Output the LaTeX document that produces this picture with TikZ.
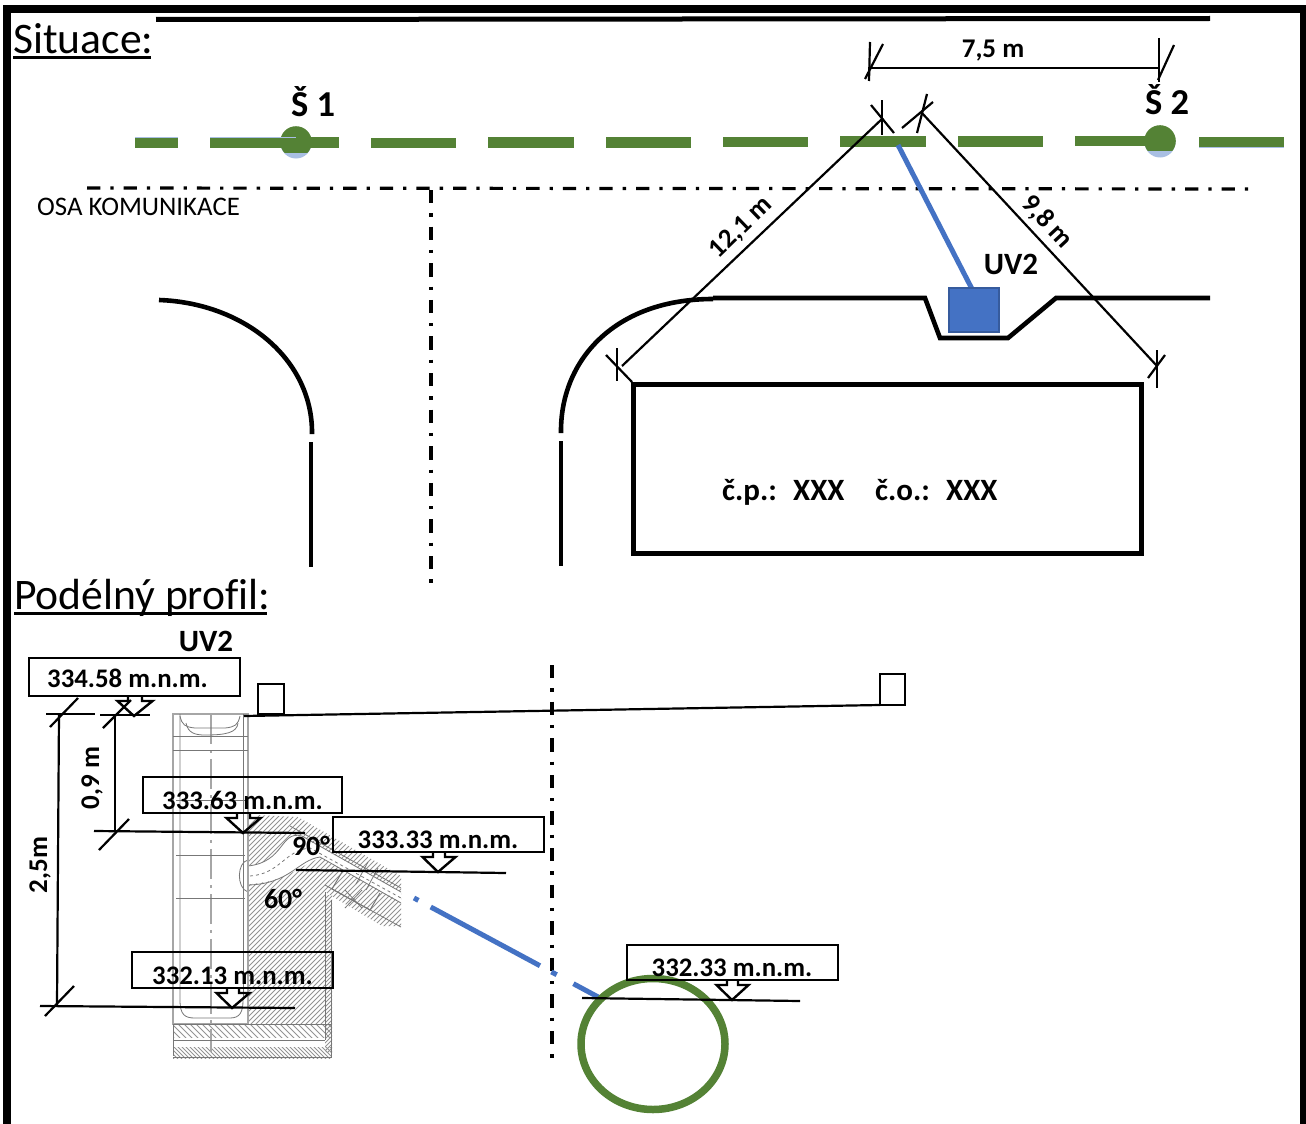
\documentclass[tikz,border=0pt]{standalone}
\usepackage{fontspec}
\setmainfont{Carlito}
\definecolor{pipegreen}{HTML}{548235}
\definecolor{pipeblue}{HTML}{4472C4}
\definecolor{pipelight}{HTML}{A9BFE3}
\definecolor{sketchgray}{HTML}{777777}
\tikzset{
  x=1pt,y=-1pt,
  dashdotline/.style={line width=3.2pt,dash pattern=on 13.3pt off 10pt on 3.3pt off 10pt},
  kerb/.style={line width=4.6pt},
  dimline/.style={line width=2.2pt},
  boxline/.style={line width=2.8pt},
  greenrun/.style={line width=10.5pt,pipegreen},
  sk/.style={sketchgray,line width=0.8pt},
  skl/.style={gray!70,line width=1.1pt},
  hatch/.style={gray!85,line width=0.8pt},
  lab/.style={font=\bfseries\fontsize{27}{29}\selectfont,inner sep=0pt,anchor=base},
  levellab/.style={font=\bfseries\fontsize{26.8}{29}\selectfont,inner sep=0pt,anchor=base},
  big/.style={font=\fontsize{43.6}{48}\selectfont,inner sep=0pt,anchor=base west},
}
\newcommand{\levelbox}[7]{% x1,y1,x2,y2,shaftL,shaftR,tipx
  \pgfmathsetmacro{\hl}{#5-10.5}\pgfmathsetmacro{\hr}{#6+10.5}
  \draw[boxline,line join=miter] (#1,#2) rectangle (#3,#4);
  \draw[line width=2.4pt,line join=miter] (#5,#4) -- (#5,#4+5) -- (\hl,#4+5) -- (#7,#4+20) -- (\hr,#4+5) -- (#6,#4+5) -- (#6,#4);
}
\begin{document}
\begin{tikzpicture}
\useasboundingbox (0,0) rectangle (1306,1124);
\fill[white] (0,0) rectangle (1306,1124);
% frame
\fill[black] (3,5) rectangle (1306,13);
\fill[black] (3,5) rectangle (11,1124);
\fill[black] (1300,5) rectangle (1306,1124);
\draw[line width=5pt] (156,19.5) -- (1210,18.5);
% titles
\node[big] (t1) at (13,53) {Situace:};
\draw[line width=2.6pt] (13,57.5) -- (151,57.5);
\node[big] (t2) at (14,609) {Podélný prof\kern0pt il:};
\draw[line width=2.6pt] (14,613.5) -- (267,613.5);
% centre lines
\draw[dashdotline] (87,188) -- (1252,189);
\draw[dashdotline] (431,190) -- (431,590);
\draw[dashdotline] (552,665) -- (552,1060);
\node[font=\fontsize{26.8}{29}\selectfont,inner sep=0pt,anchor=base west] (osa) at (37,215.5) {OSA KOMUNIKACE};
% main sewer
\fill[pipelight] (296,143) circle (15.5);
\fill[pipelight] (1160,142) circle (15.5);
\begin{scope}
\clip (270,120) rectangle (320,152);
\fill[pipegreen] (296,142) circle (15.8);
\end{scope}
\begin{scope}
\clip (1140,120) rectangle (1180,150);
\fill[pipegreen] (1160,141) circle (15.8);
\end{scope}
\draw[greenrun] (135,142.5) -- (178,142.5);
\draw[greenrun] (210,142.5) -- (339,142.5);
\draw[greenrun] (371,143) -- (456,143);
\draw[greenrun] (488,142.5) -- (574,142.5);
\draw[greenrun] (606,142.5) -- (691,142.5);
\draw[greenrun] (723,142) -- (808,142);
\draw[greenrun] (840,141.5) -- (926,141.5);
\draw[greenrun] (958,141.5) -- (1043,141.5);
\draw[greenrun] (1075,141) -- (1160,141);
\draw[greenrun] (1199,142) -- (1284,142);
\draw[pipelight,line width=1pt] (1199,147.5) -- (1284,147.5);
\draw[pipelight,line width=1pt] (210,137) -- (296,137);
\draw[pipelight,line width=1pt] (135,137) -- (178,137);
\node[lab,font=\bfseries\fontsize{36.5}{38}\selectfont] (s1) at (313,116) {Š 1};
\node[lab,font=\bfseries\fontsize{36.5}{38}\selectfont] (s2) at (1167,114) {Š 2};
% road kerbs
\draw[kerb] (159,300) .. controls (245,303) and (313,360) .. (312,434);
\draw[kerb] (311,442) -- (311,567);
\draw[kerb] (561,433) .. controls (560,360) and (615,299) .. (713,299);
\draw[kerb] (561,441) -- (561,566);
\draw[kerb,line join=miter] (713,298) -- (925,298) -- (940,338) -- (1008,338) -- (1056,298) -- (1210,298);
% house
\draw[line width=5pt] (633,384) rectangle (1141,553);
\node[lab,font=\bfseries\fontsize{31}{33}\selectfont,anchor=base west] (cp) at (722,500) {č.p.:};
\node[lab,font=\bfseries\fontsize{31}{33}\selectfont,anchor=base west] (x1) at (793,500) {XXX};
\node[lab,font=\bfseries\fontsize{31}{33}\selectfont,anchor=base west] (co) at (875,500) {č.o.:};
\node[lab,font=\bfseries\fontsize{31}{33}\selectfont,anchor=base west] (x2) at (946,500) {XXX};
% gully
\draw[pipeblue,line width=5pt] (898,145) -- (972,289);
\draw[pipeblue!80!black,fill=pipeblue,line width=1.2pt] (949,288) rectangle (999,332);
\node[lab,font=\bfseries\fontsize{31}{33}\selectfont] (uv) at (1011,274) {UV2};
% dimensions in plan
\draw[dimline] (868,68) -- (1159,68);
\draw[dimline] (870,42) -- (869,81);
\draw[dimline] (883,44) -- (865,79);
\draw[dimline] (1159,38) -- (1159,82);
\draw[dimline] (1174,45) -- (1158,80);
\node[lab] (d75) at (993,58) {7,5 m};
\draw[dimline] (883,118) -- (622,366);
\draw[dimline] (882,100) -- (882,135);
\draw[dimline] (871,105) -- (894,133);
\draw[dimline] (921,112) -- (1157,366);
\draw[dimline] (927,94) -- (917,133);
\draw[dimline] (933,102) -- (902,128);
\draw[dimline] (617,348) -- (617,381);
\draw[dimline] (606,355) -- (632,382);
\draw[dimline] (1157,350) -- (1157,388);
\draw[dimline] (1165,355) -- (1148,378);
\node[lab,anchor=center,rotate=44] (d121) at (741,228) {12,1 m};
\node[lab,anchor=center,rotate=-47] (d98) at (1047,222) {9,8 m};
% ---- raster-like section drawing
% soil hatching
\begin{scope}
\clip (248,824) -- (258,815) -- (298,817) -- (401,876) -- (401,926) -- (382,926) -- (325,892) -- (325,1024) -- (248,1024) -- cycle;
\foreach \c in {240,245,...,760} \draw[hatch] (\c,800) -- (\c-240,1040);
\end{scope}
\begin{scope}
\clip (325,895) rectangle (332,1052);
\foreach \c in {300,304,...,600} \draw[hatch] (\c,880) -- (\c-180,1060);
\end{scope}
% base hatching
\begin{scope}
\clip (173,1024) rectangle (331,1037);
\foreach \c in {0,6,...,400} \draw[hatch] (\c,1020) -- (\c+30,1050);
\end{scope}
\begin{scope}
\clip (173,1047) rectangle (331,1058);
\foreach \c in {100,104,...,400} \draw[hatch] (\c,1045) -- (\c+14,1059);
\end{scope}
% pipe run (white core)
\fill[white] (248,866) .. controls (285,862) and (280,832) .. (300,836) -- (401,892) -- (401,902) -- (322,858) .. controls (306,860) and (290,882) .. (248,884) -- cycle;
\draw[sk] (248,866) .. controls (285,862) and (280,830) .. (302,836) -- (401,892);
\draw[sk] (248,885) .. controls (290,884) and (298,860) .. (320,857) -- (401,903);
\draw[sk,dashed] (250,876) .. controls (280,874) and (285,850) .. (310,848) -- (401,898);
\draw[sk] (290,826) -- (401,888);
\draw[sk] (325,885) -- (401,927);
\draw[sk] (248,860) .. controls (237,862) and (236,888) .. (248,892);
\draw[sk,line width=1pt] (342,872) -- (332,889) -- (370,910) -- (380,893);
\draw[sk] (345,890) -- (362,908);
\draw[sk] (362,890) -- (345,908);
\draw[sk] (368,862) -- (356,884);
\draw[sk] (378,868) -- (366,890);
% manhole
\draw[skl] (173,714) rectangle (248,1024);
\draw[sk] (173,1024) -- (173,1056);
\draw[sk] (180,714) -- (180,1000) .. controls (180,1015) and (185,1018) .. (195,1018) -- (230,1018) .. controls (240,1018) and (243,1012) .. (243,1000);
\draw[sk] (243,714) -- (243,1000);
\draw[skl,dash pattern=on 30pt off 6pt on 3pt off 6pt] (211,714) -- (211,1052);
\draw[sk] (173,736) -- (248,736);
\draw[sk] (173,750) -- (248,750);
\draw[sk] (176,855) -- (245,855);
\draw[sk] (176,898) -- (245,898);
\draw[sk] (176,800) -- (245,800);
\draw[sk] (180,716) .. controls (182,725) and (185,727) .. (195,728) -- (225,728) .. controls (235,727) and (238,725) .. (240,716);
\draw[sk] (186,723) .. controls (188,733) and (195,735) .. (205,735) .. controls (225,735) and (237,733) .. (238,723);
\draw[sk] (173,1024) -- (331,1024);
\draw[sk] (173,1040) -- (325,1040);
\draw[sk] (325,892) -- (325,1040);
\draw[sk] (331,900) -- (331,1058);
\draw[sk] (173,1057) -- (331,1057);
% road surface and stops
\draw[dimline] (244,716) -- (880,705);
\draw[dimline] (258,684) rectangle (284,714);
\draw[dimline] (880,674) rectangle (905,705);
% blue connection
\draw[pipeblue,line width=5pt,dash pattern=on 5pt off 14pt on 124pt off 13pt on 6pt off 19pt on 40pt] (414,898) -- (600,998);
% green sewer
\draw[pipegreen,line width=7.5pt] (653,1044) ellipse [x radius=72,y radius=65.5];
% level lines
\draw[dimline] (46,714) -- (95,714);
\draw[dimline] (100,715) -- (150,715);
\draw[dimline] (50,727) -- (78,698);
\draw[dimline] (103,728) -- (131,700);
\draw[dimline] (59,714) -- (57,1005);
\draw[dimline] (115,715) -- (115,830);
\draw[dimline] (94,831) -- (305,833);
\draw[dimline] (99,850) -- (129,819);
\draw[dimline] (40,1006) -- (295,1008);
\draw[dimline] (45,1016) -- (74,986);
\draw[dimline] (296,870) -- (506,873);
\draw[dimline] (582,998) -- (800,1001);
% level boxes
\levelbox{29}{658}{240}{696}{128}{142}{134}
\levelbox{143}{777}{342}{813}{237}{250}{243}
\levelbox{333}{817}{544}{852}{433}{445}{438}
\levelbox{132}{952}{333}{988}{227}{239}{232}
\levelbox{627}{945}{838}{980}{727}{738}{732}
\node[levellab] (l1) at (127.5,687) {334.58 m.n.m.};
\node[levellab] (l2) at (242.5,809) {333.63 m.n.m.};
\node[levellab] (l3) at (438,848) {333.33 m.n.m.};
\node[levellab] (l4) at (232.5,984) {332.13 m.n.m.};
\node[levellab] (l5) at (732,976) {332.33 m.n.m.};
\node[lab,font=\bfseries\fontsize{31}{33}\selectfont] (uvp) at (206,651) {UV2};
\node[lab,rotate=90,anchor=base] (d25) at (47,865) {2,5m};
\node[lab,rotate=90,anchor=base] (d09) at (99,778) {0,9 m};
\node[lab,font=\bfseries\fontsize{28}{30}\selectfont] (a90) at (311,855) {90°};
\node[lab,font=\bfseries\fontsize{28}{30}\selectfont] (a60) at (283,908) {60°};
\end{tikzpicture}
\end{document}
